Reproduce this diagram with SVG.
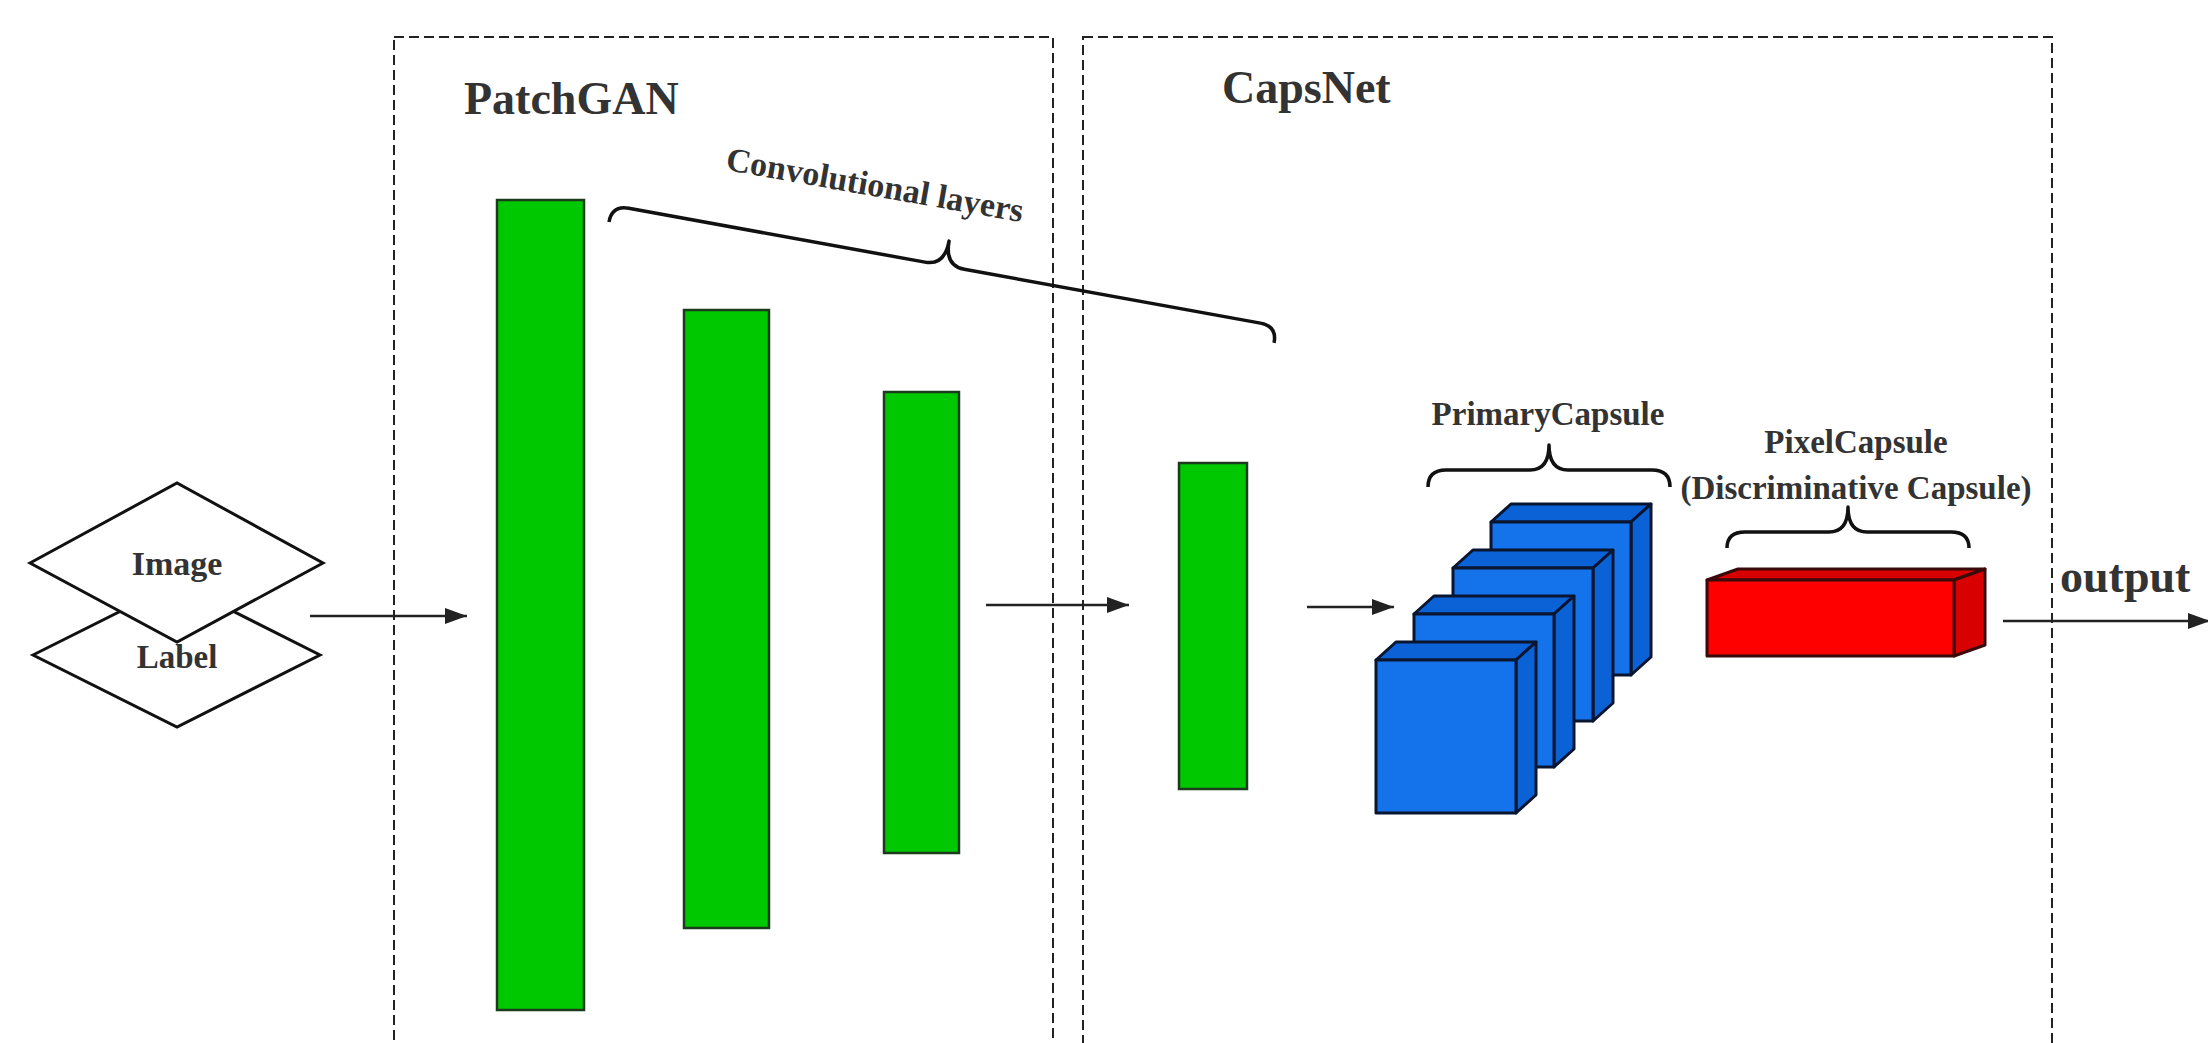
<svg xmlns="http://www.w3.org/2000/svg" width="2208" height="1043" viewBox="0 0 2208 1043">
<defs>
<style>
.t{font-family:"Liberation Serif","Times New Roman",serif;font-weight:bold;fill:#333}
.box{fill:none;stroke:#222;stroke-width:2;stroke-dasharray:10,5}
.bar{fill:#00C800;stroke:#1c3a1c;stroke-width:2.5}
.dia{fill:#fff;stroke:#111;stroke-width:3}
.brace{fill:none;stroke:#111;stroke-width:3.5;stroke-linejoin:round}
.arr{fill:none;stroke:#222;stroke-width:2.5}
.bf{fill:#1473EA;stroke:#0a1530;stroke-width:3;stroke-linejoin:round}
.bt{fill:#0B62D6;stroke:#0a1530;stroke-width:3;stroke-linejoin:round}
.rf{fill:#FF0000;stroke:#3a0a0a;stroke-width:3;stroke-linejoin:round}
.rt{fill:#D80000;stroke:#3a0a0a;stroke-width:3;stroke-linejoin:round}
</style>
<marker id="ah" markerUnits="userSpaceOnUse" markerWidth="24" markerHeight="18" refX="22" refY="8" orient="auto">
<path d="M0,0 L22,8 L0,16 z" fill="#222"/>
</marker>
</defs>
<rect width="2208" height="1043" fill="#fff"/>

<g id="patchgan-frame">
<rect class="box" x="394" y="37" width="659" height="1020"/>
<text class="t" x="464" y="114" font-size="46">PatchGAN</text>
</g>
<g id="capsnet-frame">
<rect class="box" x="1083" y="37" width="969" height="1020"/>
<text class="t" x="1222" y="103" font-size="46">CapsNet</text>
</g>

<g id="input">
<polygon class="dia" points="33,655 177,583 320,655 177,727"/>
<polygon class="dia" points="30,563 177,483 323,563 177,642"/>
<text class="t" x="177" y="575" font-size="34" text-anchor="middle">Image</text>
<text class="t" x="177" y="668" font-size="33" text-anchor="middle">Label</text>
</g>

<g id="conv1"><rect class="bar" x="497" y="200" width="87" height="810"/></g>
<g id="conv2"><rect class="bar" x="684" y="310" width="85" height="618"/></g>
<g id="conv3"><rect class="bar" x="884" y="392" width="75" height="461"/></g>
<g id="conv4"><rect class="bar" x="1179" y="463" width="68" height="326"/></g>

<g id="conv-brace">
<path class="brace" transform="translate(609,222) rotate(10.3)" d="M0,0 Q0,-17 17,-17 L318,-17 Q338,-17 338,-42 Q338,-17 358,-17 L659,-17 Q676,-17 676,0"/>
<text class="t" x="873" y="196" font-size="34" text-anchor="middle" transform="rotate(10,873,196)">Convolutional layers</text>
</g>

<g id="primary-capsule">
<g id="cap4">
<polygon class="bt" points="1491,522 1511,504 1651,504 1631,522"/>
<polygon class="bt" points="1631,522 1651,504 1651,657 1631,675"/>
<rect class="bf" x="1491" y="522" width="140" height="153"/>
</g>
<g id="cap3">
<polygon class="bt" points="1453,568 1473,550 1613,550 1593,568"/>
<polygon class="bt" points="1593,568 1613,550 1613,703 1593,721"/>
<rect class="bf" x="1453" y="568" width="140" height="153"/>
</g>
<g id="cap2">
<polygon class="bt" points="1414,614 1434,596 1574,596 1554,614"/>
<polygon class="bt" points="1554,614 1574,596 1574,749 1554,767"/>
<rect class="bf" x="1414" y="614" width="140" height="153"/>
</g>
<g id="cap1">
<polygon class="bt" points="1376,660 1396,642 1536,642 1516,660"/>
<polygon class="bt" points="1516,660 1536,642 1536,795 1516,813"/>
<rect class="bf" x="1376" y="660" width="140" height="153"/>
</g>
<path class="brace" d="M1428,487 Q1428,470 1446,470 L1530,470 Q1549,470 1549,445 Q1549,470 1568,470 L1652,470 Q1670,470 1670,487"/>
<text class="t" x="1548" y="425" font-size="33" text-anchor="middle">PrimaryCapsule</text>
</g>

<g id="pixel-capsule">
<polygon class="rt" points="1707,580 1738,569 1985,569 1954,580"/>
<polygon class="rt" points="1954,580 1985,569 1985,645 1954,656"/>
<rect class="rf" x="1707" y="580" width="247" height="76"/>
<path class="brace" d="M1727,548 Q1727,532 1745,532 L1829,532 Q1848,532 1848,507 Q1848,532 1867,532 L1951,532 Q1969,532 1969,548"/>
<text class="t" x="1856" y="453" font-size="33" text-anchor="middle">PixelCapsule</text>
<text class="t" x="1856" y="499" font-size="33" text-anchor="middle">(Discriminative Capsule)</text>
</g>

<g id="output-label">
<text class="t" x="2060" y="592" font-size="46">output</text>
</g>

<g id="connectors">
<line class="arr" x1="310" y1="616" x2="467" y2="616" marker-end="url(#ah)"/>
<line class="arr" x1="986" y1="605" x2="1129" y2="605" marker-end="url(#ah)"/>
<line class="arr" x1="1307" y1="607" x2="1394" y2="607" marker-end="url(#ah)"/>
<line class="arr" x1="2003" y1="621" x2="2210" y2="621" marker-end="url(#ah)"/>
</g>
</svg>
